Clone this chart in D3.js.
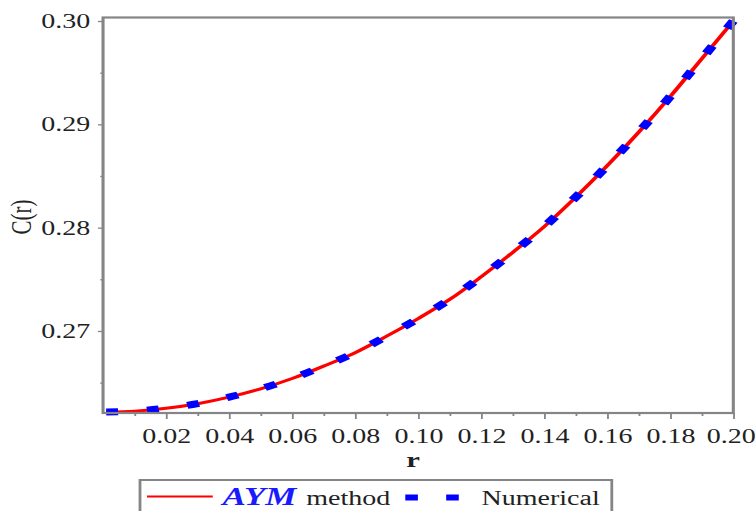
<!DOCTYPE html>
<html>
<head>
<meta charset="utf-8">
<script src="https://cdn.jsdelivr.net/npm/d3@7"></script>
<style>
  body { margin: 0; background: #fff; }
  text { font-family: "Liberation Serif", "Times New Roman", serif; }
</style>
</head>
<body>
<div id="chart"></div>
<script>
// Data
const rValues = [0.001, 0.01, 0.02, 0.03, 0.04, 0.05, 0.06, 0.07, 0.08, 0.09, 0.10,
                 0.11, 0.12, 0.13, 0.14, 0.15, 0.16, 0.17, 0.18, 0.19, 0.20];
const aymValues = [0.26215, 0.26224, 0.26252, 0.26296, 0.26359, 0.26440, 0.26540, 0.26660,
                   0.26790, 0.26950, 0.27120, 0.27305, 0.27525, 0.27760, 0.28010, 0.28295,
                   0.28600, 0.28925, 0.29270, 0.29635, 0.30000];
const numericalValues = [0.26215, 0.26224, 0.26252, 0.26296, 0.26359, 0.26440, 0.26540, 0.26660,
                         0.26790, 0.26950, 0.27120, 0.27305, 0.27525, 0.27760, 0.28010, 0.28295,
                         0.28600, 0.28925, 0.29270, 0.29635, 0.30000];
const xTicks = [0.02, 0.04, 0.06, 0.08, 0.10, 0.12, 0.14, 0.16, 0.18, 0.20];
const xMinorTicks = [0.01, 0.03, 0.05, 0.07, 0.09, 0.11, 0.13, 0.15, 0.17, 0.19];
const yTicks = [0.27, 0.28, 0.29, 0.30];
const yMinorTicks = [0.265, 0.275, 0.285, 0.295];

// The original picture is stretched sideways, so draw in a narrower box and stretch it
const width = 540;
const height = 511;
const margin = { top: 17.5, right: 16.2, bottom: 98, left: 73.6 };

const svg = d3.select("#chart")
    .append("svg")
    .attr("width", 756)
    .attr("height", 511)
    .attr("viewBox", `0 0 ${width} ${height}`)
    .attr("preserveAspectRatio", "none");

// Scales
const x = d3.scaleLinear()
    .domain([0, 0.2])
    .range([margin.left, width - margin.right]);

const y = d3.scaleLinear()
    .domain([0.26206, 0.30034])
    .range([height - margin.bottom, margin.top]);

const axisColor = "#858585";

// Axes
const xAxis = svg.append("g")
    .attr("transform", `translate(0,${height - margin.bottom})`)
    .call(d3.axisBottom(x).tickValues(xTicks).tickFormat(d3.format(".2f"))
        .tickSize(6).tickPadding(4).tickSizeOuter(0));
const xMinor = svg.append("g")
    .attr("transform", `translate(0,${height - margin.bottom})`)
    .call(d3.axisBottom(x).tickValues(xMinorTicks).tickFormat("").tickSize(3).tickSizeOuter(0));

const yAxis = svg.append("g")
    .attr("transform", `translate(${margin.left},0)`)
    .call(d3.axisLeft(y).tickValues(yTicks).tickFormat(d3.format(".2f"))
        .tickSize(3.6).tickPadding(5.5).tickSizeOuter(0));
const yMinor = svg.append("g")
    .attr("transform", `translate(${margin.left},0)`)
    .call(d3.axisLeft(y).tickValues(yMinorTicks).tickFormat("").tickSize(2).tickSizeOuter(0));

[xAxis, xMinor, yAxis, yMinor].forEach(g => {
    g.select(".domain").remove();
    g.selectAll("line").attr("stroke", axisColor).attr("stroke-width", 1.3);
    g.selectAll("text")
        .attr("fill", "#222")
        .style("font-family", "'Liberation Serif', serif")
        .style("font-size", "20px");
});
xAxis.selectAll("text").attr("dy", "1em");
// last label sits right at the page edge
xAxis.selectAll("text").filter(d => d === 0.20).attr("dx", -2);

// Curves
const line = d3.line()
    .x(d => x(d[0]))
    .y(d => y(d[1]))
    .curve(d3.curveMonotoneX);

svg.append("path")
    .datum(rValues.map((r, i) => [r, aymValues[i]]))
    .attr("fill", "none")
    .attr("stroke", "#ff0000")
    .attr("stroke-width", 3)
    .attr("d", line);

svg.append("path")
    .datum(rValues.map((r, i) => [r, numericalValues[i]]))
    .attr("fill", "none")
    .attr("stroke", "#0000ff")
    .attr("stroke-width", 7)
    .attr("stroke-dasharray", "8.5 20.7")
    .attr("stroke-dashoffset", 0)
    .attr("d", line);

// Frame
svg.append("rect")
    .attr("x", margin.left)
    .attr("y", margin.top)
    .attr("width", width - margin.left - margin.right)
    .attr("height", height - margin.top - margin.bottom)
    .attr("fill", "none")
    .attr("stroke", axisColor)
    .attr("stroke-width", 2.2);

// Axis titles
svg.append("text")
    .attr("x", 295)
    .attr("y", 467)
    .attr("text-anchor", "middle")
    .style("font-size", "22px")
    .style("font-weight", "bold")
    .attr("fill", "#222")
    .text("r");

svg.append("text")
    .attr("transform", "rotate(-90)")
    .attr("x", -217)
    .attr("y", 22)
    .attr("text-anchor", "middle")
    .style("font-size", "21px")
    .attr("fill", "#222")
    .text("C(r)");

// Legend
const legend = svg.append("g");
legend.append("rect")
    .attr("x", 100)
    .attr("y", 480)
    .attr("width", 337)
    .attr("height", 50)
    .attr("fill", "#fff")
    .attr("stroke", axisColor)
    .attr("stroke-width", 2);

legend.append("line")
    .attr("x1", 105).attr("x2", 152)
    .attr("y1", 496.5).attr("y2", 496.5)
    .attr("stroke", "#ff0000")
    .attr("stroke-width", 2);

const aymLabel = legend.append("text")
    .attr("x", 159)
    .attr("y", 505)
    .style("font-size", "20px")
    .attr("fill", "#222");
aymLabel.append("tspan")
    .style("font-size", "25px")
    .style("font-weight", "bold")
    .style("font-style", "italic")
    .attr("fill", "#1a1aff")
    .text("AYM");
aymLabel.append("tspan")
    .attr("dx", 2)
    .text(" method");

legend.append("line")
    .attr("x1", 289.5).attr("x2", 328)
    .attr("y1", 497.5).attr("y2", 497.5)
    .attr("stroke", "#0000ff")
    .attr("stroke-width", 6)
    .attr("stroke-dasharray", "9 20.2");

legend.append("text")
    .attr("x", 344)
    .attr("y", 505)
    .style("font-size", "20px")
    .attr("fill", "#222")
    .text("Numerical");
</script>
</body>
</html>
